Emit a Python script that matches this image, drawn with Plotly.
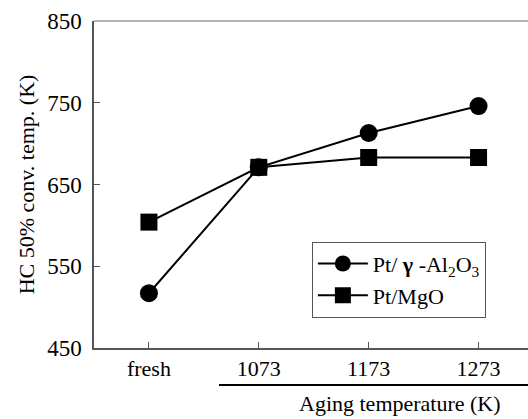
import plotly.graph_objects as go

categories = ["fresh", "1073", "1173", "1273"]
pt_al2o3 = [517, 671, 713, 746]
pt_mgo = [604, 671, 683, 683]
y_ticks = [450, 550, 650, 750, 850]

font = "Liberation Serif, Times New Roman, serif"
x_idx = list(range(len(categories)))

fig = go.Figure()
fig.add_trace(go.Scatter(
    x=x_idx, y=pt_al2o3, mode="lines+markers",
    name="Pt/ <b>γ</b> -Al<sub>2</sub>O<sub>3</sub>",
    line=dict(color="black", width=2),
    marker=dict(symbol="circle", size=18, color="black"),
))
fig.add_trace(go.Scatter(
    x=x_idx, y=pt_mgo, mode="lines+markers", name="Pt/MgO",
    line=dict(color="black", width=2),
    marker=dict(symbol="square", size=17, color="black"),
))

fig.update_layout(
    width=528, height=419,
    margin=dict(l=94, r=0, t=21, b=71),
    paper_bgcolor="white", plot_bgcolor="white",
    font=dict(family=font, size=22, color="black"),
    showlegend=True,
    legend=dict(
        x=0.502, y=0.325, xanchor="left", yanchor="top",
        bordercolor="#555", borderwidth=1, bgcolor="white",
        font=dict(family=font, size=22), tracegroupgap=0,
        itemwidth=50,
    ),
    xaxis=dict(
        range=[-0.5, 3.45], tickmode="array", tickvals=x_idx, ticktext=categories,
        tickson="boundaries", ticks="inside", ticklen=6, tickcolor="#555",
        showline=True, linecolor="#555", linewidth=1.5, showgrid=False, zeroline=False,
        tickfont=dict(family=font, size=22), ticklabelstandoff=0,
    ),
    yaxis=dict(
        range=[450, 850], tickmode="array", tickvals=y_ticks,
        ticks="inside", ticklen=6, tickcolor="#555",
        showline=True, linecolor="#555", linewidth=1.5, showgrid=False, zeroline=False,
        tickfont=dict(family=font, size=23), ticklabelstandoff=6,
        title=dict(text="HC 50% conv. temp. (K)", font=dict(family=font, size=22), standoff=6),
    ),
)

# top border
fig.add_shape(type="line", xref="paper", yref="paper", x0=0, x1=1, y0=1, y1=1,
              line=dict(color="#999", width=1.5))
# aging temperature bracket line
fig.add_shape(type="line", xref="paper", yref="paper", x0=0.288, x1=1.0, y0=-0.113, y1=-0.113,
              line=dict(color="black", width=2))
fig.add_annotation(text="Aging temperature (K)", xref="paper", yref="paper",
                   x=0.705, y=-0.17, xanchor="center", yanchor="middle", showarrow=False,
                   font=dict(family=font, size=22))

fig.write_html("out.html")
